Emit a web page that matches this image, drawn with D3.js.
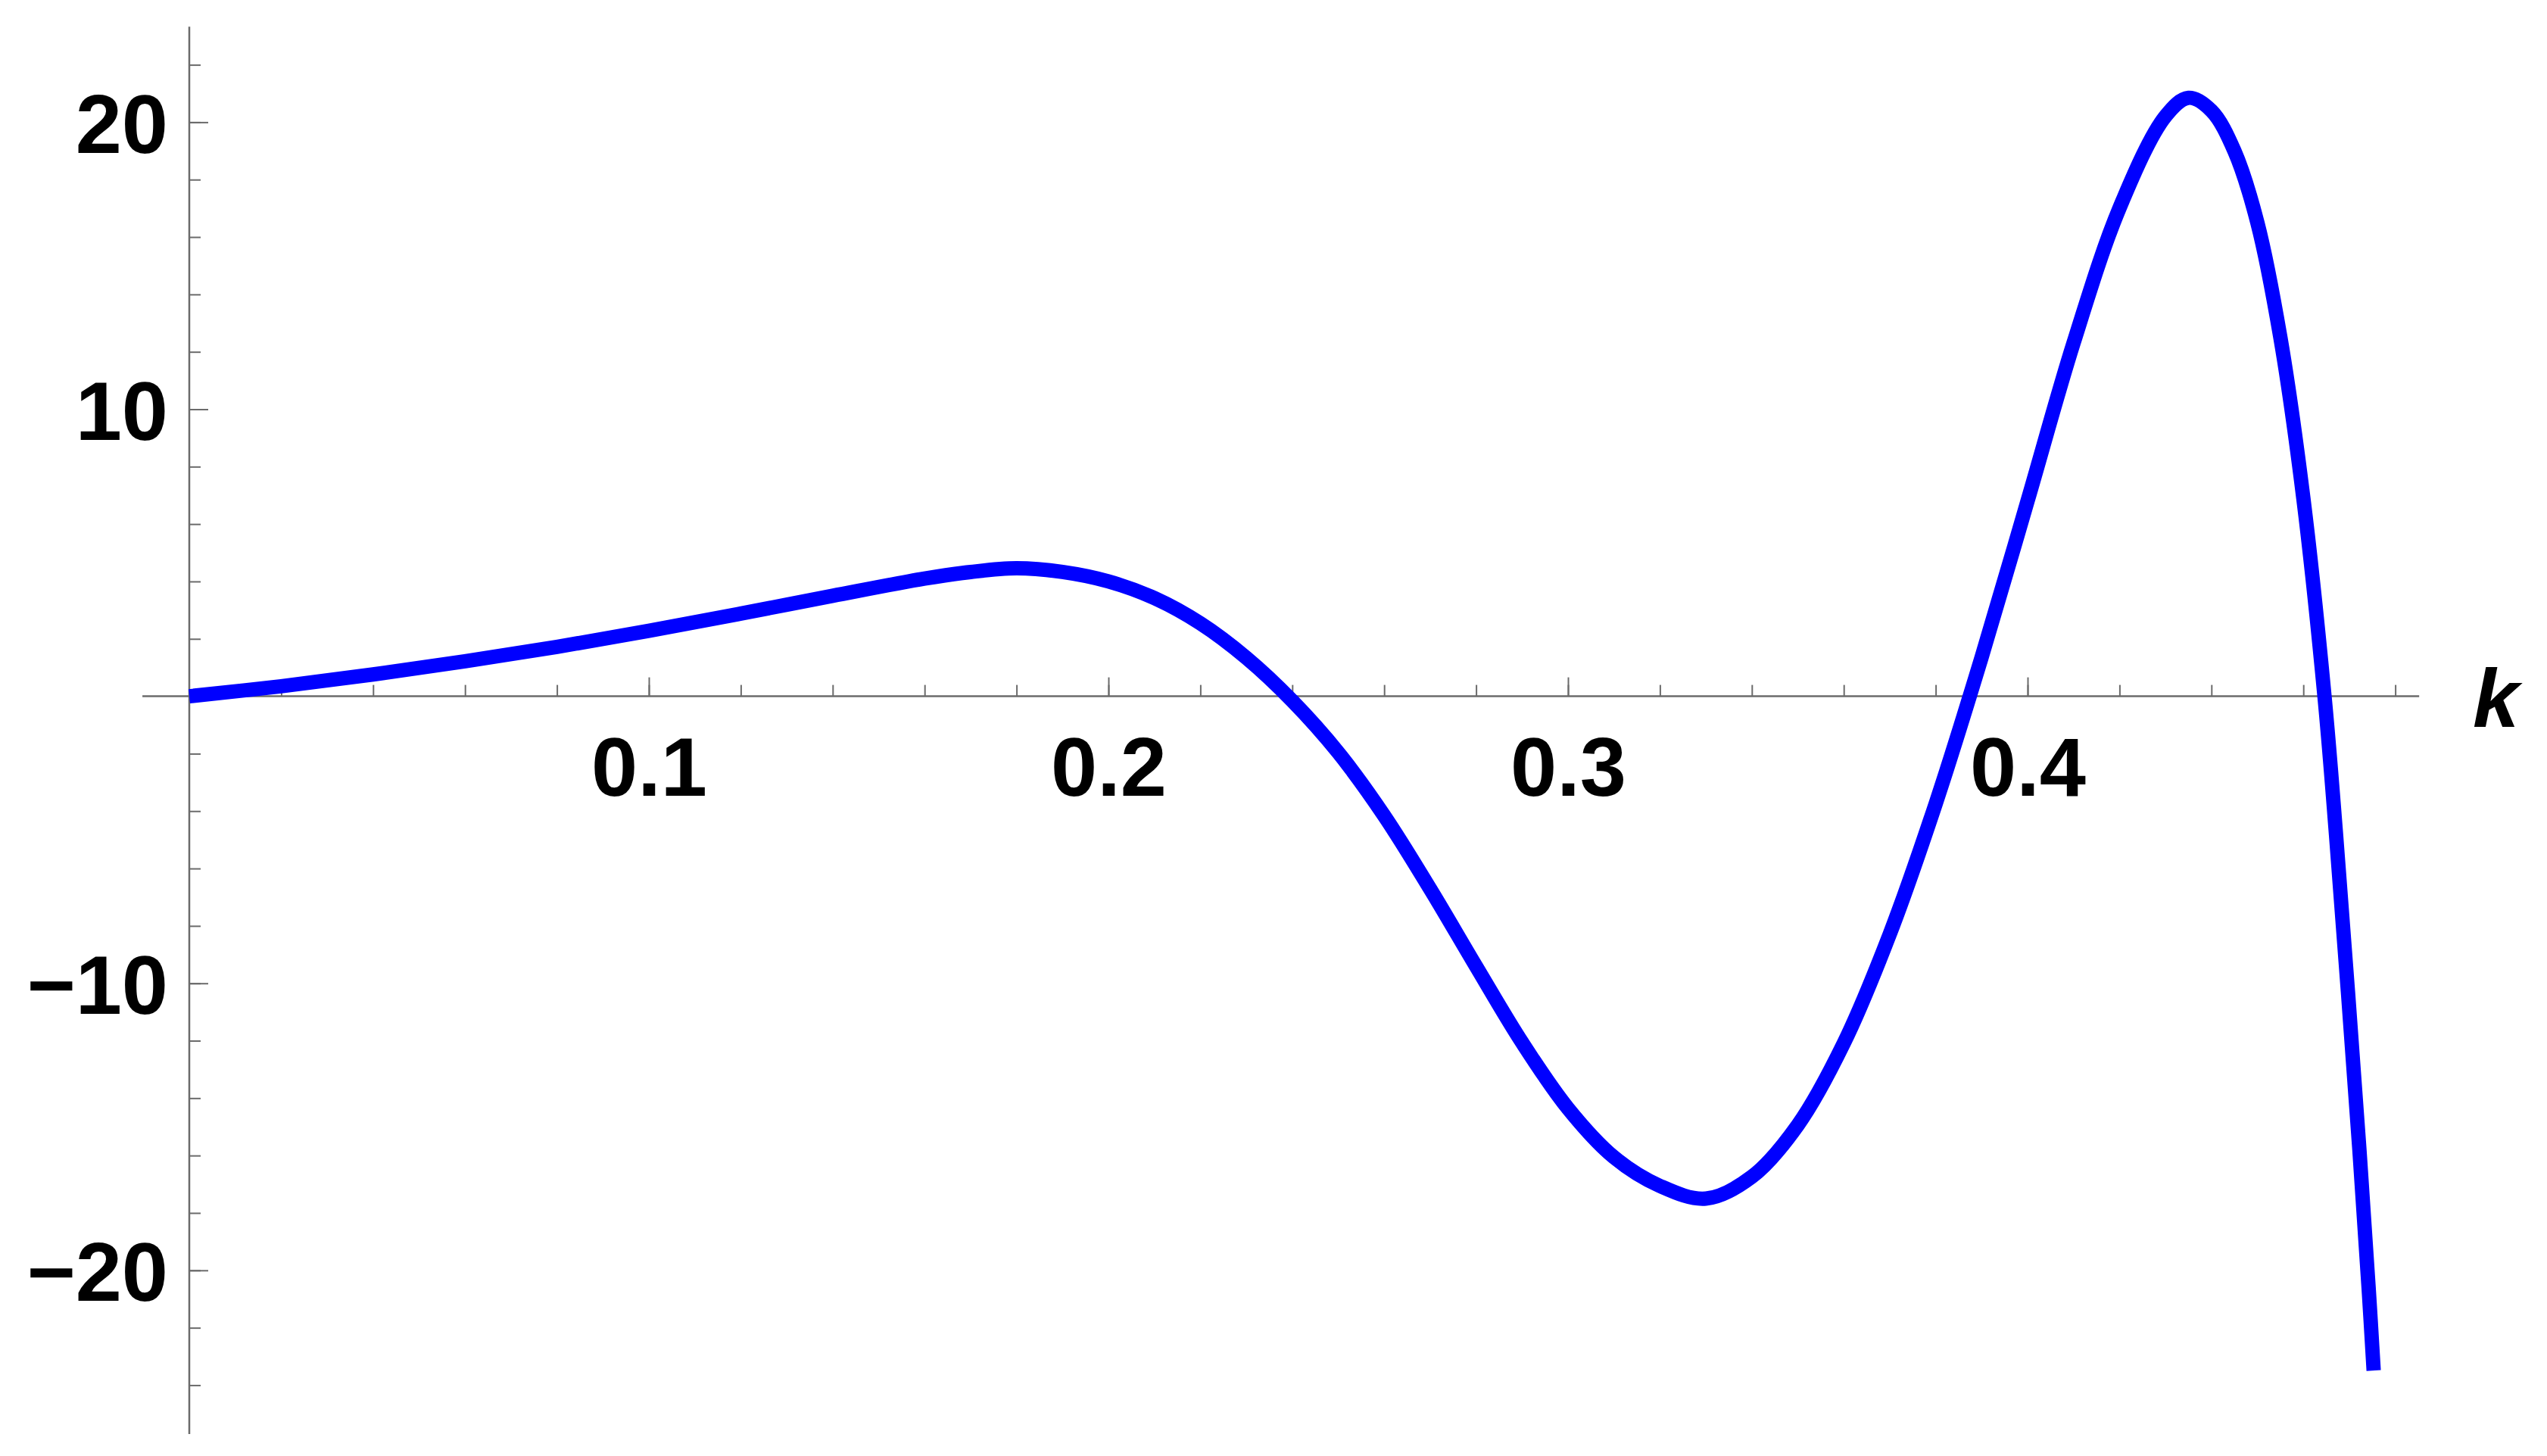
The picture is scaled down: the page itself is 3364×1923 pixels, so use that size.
<!DOCTYPE html>
<html>
<head>
<meta charset="utf-8">
<script src="https://cdn.jsdelivr.net/npm/d3@7"></script>
<style>
  body { margin: 0; background: #fff; }
  svg { display: block; }
</style>
</head>
<body>
<div id="chart"></div>
<script>
// curve: k on the horizontal axis, value on the vertical one
let kValues = [0, 0.02, 0.04, 0.06, 0.08, 0.10, 0.12, 0.14, 0.16, 0.17, 0.18, 0.19, 0.20, 0.21, 0.22, 0.23,
  0.24, 0.25, 0.26, 0.27, 0.28, 0.29, 0.30, 0.31, 0.32, 0.33, 0.34, 0.35, 0.36, 0.37, 0.38, 0.39,
  0.40, 0.41, 0.42, 0.43, 0.435, 0.44, 0.445, 0.45, 0.455, 0.46, 0.4646, 0.4671, 0.4722, 0.4742, 0.4753];
let fValues = [0, 0.35, 0.76, 1.22, 1.72, 2.28, 2.88, 3.5, 4.1, 4.33, 4.46, 4.33, 4.0, 3.42, 2.54, 1.34,
  -0.16, -1.96, -4.16, -6.71, -9.41, -12.06, -14.36, -16.06, -17.06, -17.5, -16.74, -14.94, -12.09, -8.29, -3.74, 1.36,
  6.81, 12.31, 17.01, 20.21, 20.85, 20.4, 19.0, 16.5, 12.5, 6.9, 0, -4.8, -15.8, -20.6, -23.49];

let xMajorTicks = [0.1, 0.2, 0.3, 0.4];
let xMinorTicks = d3.range(1, 25).map(i => +(i * 0.02).toFixed(2));
let yMajorTicks = [-20, -10, 10, 20];
let yMinorTicks = d3.range(-24, 23, 2).filter(v => v != 0);
let xAxisExtent = [-0.0102, 0.4852];
let yAxisExtent = [-25.7, 23.33];

var width = 3364, height = 1923;
var axisColor = "#6b6b6b";

var svg = d3.select("#chart")
  .append("svg")
  .attr("width", width)
  .attr("height", height)
  .style("background", "#fff");

// scales
var x = d3.scaleLinear()
  .domain([0, 0.4])
  .range([250, 2678]);

var y = d3.scaleLinear()
  .domain([-20, 20])
  .range([1677.8, 161.4]);

// axis lines (they cross at the origin)
svg.append("line")
  .attr("x1", x(xAxisExtent[0])).attr("x2", x(xAxisExtent[1]))
  .attr("y1", y(0)).attr("y2", y(0))
  .attr("stroke", axisColor).attr("stroke-width", 2.5);

svg.append("line")
  .attr("x1", x(0)).attr("x2", x(0))
  .attr("y1", y(yAxisExtent[0])).attr("y2", y(yAxisExtent[1]))
  .attr("stroke", axisColor).attr("stroke-width", 2.5);

// x ticks, pointing up from the axis
var xMinor = svg.append("g")
  .attr("transform", "translate(0," + y(0) + ")")
  .call(d3.axisBottom(x).tickValues(xMinorTicks).tickSize(-15).tickFormat(""));

var xMajor = svg.append("g")
  .attr("transform", "translate(0," + y(0) + ")")
  .call(d3.axisBottom(x).tickValues(xMajorTicks).tickSize(-25).tickPadding(53)
    .tickFormat(d3.format(".1f")));

// y ticks, pointing right from the axis
var yMinor = svg.append("g")
  .attr("transform", "translate(" + x(0) + ",0)")
  .call(d3.axisLeft(y).tickValues(yMinorTicks).tickSize(-15).tickFormat(""));

var yMajor = svg.append("g")
  .attr("transform", "translate(" + x(0) + ",0)")
  .call(d3.axisLeft(y).tickValues(yMajorTicks).tickSize(-25).tickPadding(28));

[xMinor, xMajor, yMinor, yMajor].forEach(function(g) {
  g.select(".domain").remove();
  g.selectAll(".tick line").attr("stroke", axisColor).attr("stroke-width", 2);
  g.selectAll(".tick text")
    .attr("fill", "#000")
    .style("font-family", "'Liberation Sans', Arial, sans-serif")
    .style("font-weight", "bold")
    .style("font-size", "110px");
});
yMajor.selectAll(".tick text").attr("dy", "0.36em");

// axis label
svg.append("text")
  .attr("x", 3266)
  .attr("y", 960)
  .style("font-family", "'Liberation Sans', Arial, sans-serif")
  .style("font-weight", "bold")
  .style("font-style", "italic")
  .style("font-size", "110px")
  .text("k");

// the curve
var points = kValues.map((k, i) => ({ k: k, f: fValues[i] }));

var line = d3.line()
  .x(d => x(d.k))
  .y(d => y(d.f))
  .curve(d3.curveCatmullRom.alpha(0.5));

svg.append("path")
  .datum(points)
  .attr("d", line)
  .attr("fill", "none")
  .attr("stroke", "#0000ff")
  .attr("stroke-width", 19)
  .attr("stroke-linecap", "butt")
  .attr("stroke-linejoin", "round");
</script>
</body>
</html>
